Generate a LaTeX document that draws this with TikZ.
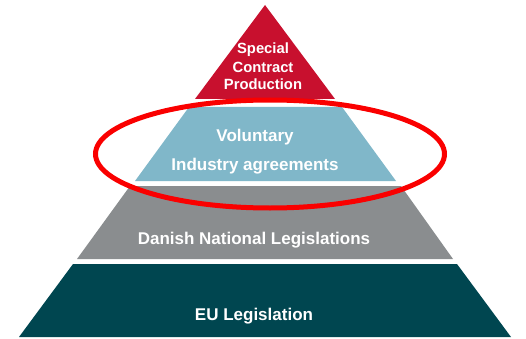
\documentclass[tikz,border=0pt]{standalone}
\usepackage{fontspec}
\setmainfont{Liberation Sans}
\usetikzlibrary{positioning}
\definecolor{toplevel}{RGB}{200,16,46}
\definecolor{voluntary}{RGB}{128,183,201}
\definecolor{national}{RGB}{138,141,143}
\definecolor{eulevel}{RGB}{0,70,80}
\definecolor{ringred}{RGB}{250,0,0}

\begin{document}
\begin{tikzpicture}[x=1pt,y=-1pt,
    big label/.style={text=white,font=\bfseries\fontsize{17}{20}\selectfont,anchor=base,inner sep=0pt},
    small label/.style={text=white,font=\bfseries\fontsize{14.8}{17}\selectfont,anchor=base,inner sep=0pt}]
  \useasboundingbox (0,0) rectangle (526,339);
  % pyramid bands
  \fill[toplevel] (265,5) -- (335,99) -- (195,99) -- cycle;
  \fill[voluntary] (189,107) -- (342,107) -- (396,181) -- (135,181) -- cycle;
  \fill[national] (130,186) -- (401,186) -- (453,259) -- (77,259) -- cycle;
  \fill[eulevel] (73,264) -- (457,264) -- (511,337) -- (19,337) -- cycle;
  % labels
  \node[small label] (special) at (263,54) {Special};
  \node[small label] (contract) at (263,73) {Contract};
  \node[small label] (production) at (263,90) {Production};
  \node[big label] (voluntary) at (255,141) {Voluntary};
  \node[big label] (industry) at (255,170) {Industry agreements};
  \node[big label] (danish) at (254,244) {Danish National Legislations};
  \node[big label] (eu) at (254,320) {EU Legislation};
  % highlight
  \draw[ringred,line width=5pt] (270,154) ellipse [x radius=174.5, y radius=54];
\end{tikzpicture}
\end{document}
